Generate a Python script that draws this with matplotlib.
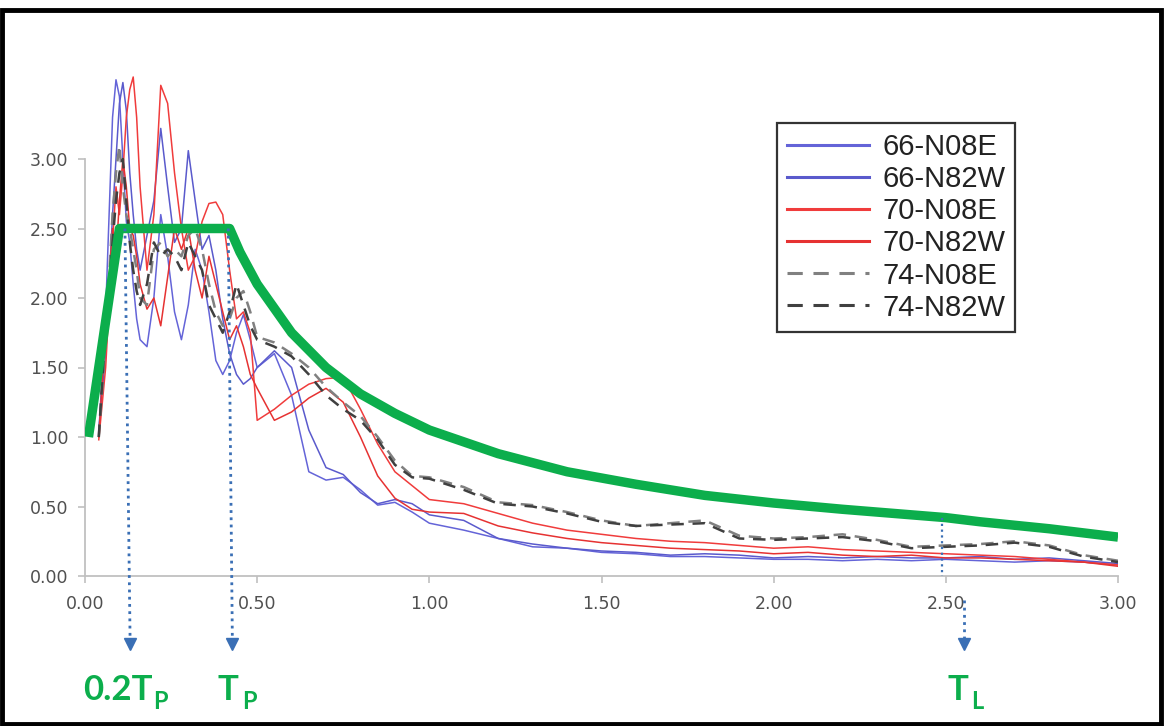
import numpy as np
import matplotlib
matplotlib.use("Agg")
import matplotlib.pyplot as plt
from matplotlib.patches import Rectangle

# periods (s) shared by the six recorded spectra
period = [0.04, 0.06, 0.08, 0.09, 0.10, 0.11, 0.12, 0.13, 0.14, 0.15, 0.16,
          0.18, 0.20, 0.22, 0.24, 0.26, 0.28, 0.30, 0.32, 0.34, 0.36, 0.38,
          0.40, 0.42, 0.44, 0.46, 0.48, 0.50,
          0.55, 0.60, 0.65, 0.70, 0.75, 0.80, 0.85, 0.90, 0.95, 1.00,
          1.10, 1.20, 1.30, 1.40, 1.50, 1.60, 1.70, 1.80, 1.90, 2.00,
          2.10, 2.20, 2.30, 2.40, 2.50, 2.60, 2.70, 2.80, 2.90, 3.00]

sa_66_n08e = [1.02, 1.9, 3.3, 3.57, 3.45, 3.0, 2.55, 2.4, 2.1, 1.85, 1.7,
              1.65, 2.0, 2.6, 2.3, 1.9, 1.70, 1.95, 2.35, 2.2, 1.9, 1.55,
              1.45, 1.55, 1.75, 1.88, 1.7, 1.5,
              1.6, 1.3, 0.75, 0.69, 0.71, 0.62, 0.51, 0.53, 0.46, 0.38,
              0.33, 0.27, 0.21, 0.20, 0.17, 0.16, 0.14, 0.14, 0.13, 0.12,
              0.12, 0.11, 0.12, 0.11, 0.12, 0.11, 0.10, 0.11, 0.10, 0.08]
sa_66_n82w = [1.05, 1.6, 2.6, 3.0, 3.4, 3.55, 3.35, 2.9, 2.6, 2.35, 2.2,
              2.45, 2.7, 3.22, 2.8, 2.4, 2.5, 3.06, 2.7, 2.35, 2.45, 2.2,
              1.85, 1.6, 1.45, 1.38, 1.42, 1.5,
              1.62, 1.5, 1.05, 0.78, 0.73, 0.6, 0.52, 0.55, 0.52, 0.44,
              0.40, 0.27, 0.23, 0.20, 0.18, 0.17, 0.15, 0.16, 0.15, 0.13,
              0.14, 0.13, 0.14, 0.13, 0.13, 0.14, 0.12, 0.13, 0.11, 0.09]
sa_70_n08e = [0.98, 1.5, 2.4, 2.8, 2.6, 2.9, 3.3, 3.5, 3.59, 3.3, 2.8,
              2.2, 2.6, 3.53, 3.4, 2.9, 2.5, 2.2, 2.3, 2.55, 2.68, 2.69,
              2.6, 2.2, 1.85, 1.9, 1.75, 1.12,
              1.2, 1.3, 1.38, 1.42, 1.43, 1.2, 0.95, 0.75, 0.65, 0.55,
              0.52, 0.45, 0.38, 0.33, 0.30, 0.27, 0.25, 0.24, 0.22, 0.20,
              0.21, 0.19, 0.18, 0.17, 0.16, 0.15, 0.14, 0.12, 0.10, 0.08]
sa_70_n82w = [1.0, 1.8, 2.5, 2.3, 2.7, 3.0, 2.8, 2.5, 2.45, 2.3, 2.1,
              1.92, 2.0, 1.8, 2.15, 2.5, 2.35, 2.5, 2.2, 2.0, 2.3, 2.1,
              1.9, 1.7, 1.8, 1.65, 1.45, 1.35,
              1.12, 1.18, 1.28, 1.35, 1.25, 1.0, 0.72, 0.56, 0.48, 0.46,
              0.45, 0.36, 0.31, 0.27, 0.24, 0.22, 0.20, 0.19, 0.18, 0.16,
              0.17, 0.15, 0.14, 0.15, 0.13, 0.13, 0.12, 0.11, 0.10, 0.07]
sa_74_n08e = [1.0, 1.7, 2.6, 2.9, 3.1, 2.8, 2.6, 2.5, 2.35, 2.2, 2.0,
              1.95, 2.35, 2.4, 2.3, 2.35, 2.3, 2.45, 2.5, 2.35, 2.1, 1.9,
              1.8, 1.85, 2.0, 2.05, 1.9, 1.72,
              1.68, 1.6, 1.5, 1.36, 1.25, 1.15, 1.0, 0.83, 0.72, 0.71,
              0.64, 0.53, 0.51, 0.46, 0.40, 0.36, 0.38, 0.40, 0.29, 0.27,
              0.28, 0.30, 0.26, 0.21, 0.22, 0.23, 0.25, 0.22, 0.15, 0.11]
sa_74_n82w = [1.0, 1.8, 2.4, 2.7, 2.9, 3.0, 2.7, 2.4, 2.2, 2.05, 1.95,
              2.1, 2.4, 2.3, 2.35, 2.3, 2.2, 2.4, 2.3, 2.2, 1.95, 1.85,
              1.75, 1.9, 2.1, 1.95, 1.8, 1.7,
              1.65, 1.58, 1.45, 1.3, 1.2, 1.12, 0.98, 0.8, 0.71, 0.70,
              0.62, 0.52, 0.50, 0.45, 0.39, 0.36, 0.37, 0.38, 0.27, 0.26,
              0.27, 0.28, 0.25, 0.20, 0.21, 0.22, 0.24, 0.21, 0.14, 0.10]

# design spectrum
design_T = [0.01, 0.10, 0.42, 0.45, 0.50, 0.60, 0.70, 0.80, 0.90, 1.00,
            1.20, 1.40, 1.60, 1.80, 2.00, 2.20, 2.50, 2.60, 2.80, 3.00]
design_sa = [1.0, 2.5, 2.5, 2.33, 2.1, 1.75, 1.5, 1.31, 1.17, 1.05,
             0.88, 0.75, 0.66, 0.58, 0.525, 0.48, 0.42, 0.39, 0.34, 0.28]

series = [
    ("66-N08E", sa_66_n08e, "#6464d8", "-"),
    ("66-N82W", sa_66_n82w, "#5a5acc", "-"),
    ("70-N08E", sa_70_n08e, "#f03c3c", "-"),
    ("70-N82W", sa_70_n82w, "#e63232", "-"),
    ("74-N08E", sa_74_n08e, "#808080", "--"),
    ("74-N82W", sa_74_n82w, "#404040", "--"),
]

ticks = [0.0, 0.5, 1.0, 1.5, 2.0, 2.5, 3.0]
green = "#0cae4c"
W, H = 1164, 726

fig = plt.figure(figsize=(W / 100, H / 100), dpi=100)
ax = fig.add_axes([85 / W, 150 / H, 1033 / W, 500.4 / H])

for name, vals, col, ls in series:
    if ls == "--":
        ax.plot(period, vals, color=col, lw=1.8, dashes=(5, 3.5), label=name, zorder=3)
    else:
        ax.plot(period, vals, color=col, lw=1.1, label=name, zorder=3)

ax.plot(design_T, design_sa, color=green, lw=6.8, solid_capstyle="butt",
        solid_joinstyle="round", zorder=5)

# dotted markers for 0.2Tp, Tp, TL
dot_col = "#3a6fb5"
for x_top, y_top, x_bot in [(0.116, 2.5, 0.131), (0.416, 2.5, 0.428)]:
    ax.plot([x_top, x_bot], [y_top, -0.47], ls=(0, (1, 1.6)), color=dot_col,
            lw=2, clip_on=False, zorder=6)
    ax.plot([x_bot], [-0.49], marker="v", ms=9, color=dot_col, clip_on=False, zorder=6)
ax.plot([2.49, 2.49], [0.42, 0.0], ls=(0, (1, 1.6)), color=dot_col, lw=1.6,
        clip_on=False, zorder=6)
ax.plot([2.553, 2.553], [-0.17, -0.47], ls=(0, (1, 1.6)), color=dot_col, lw=2,
        clip_on=False, zorder=6)
ax.plot([2.553], [-0.49], marker="v", ms=9, color=dot_col, clip_on=False, zorder=6)

ax.set_xlim(0, 3.0)
ax.set_ylim(0, 3.6)
ax.set_xticks(ticks)
ax.set_yticks(ticks)
ax.set_xticklabels([f"{t:.2f}" for t in ticks])
ax.set_yticklabels([f"{t:.2f}" for t in ticks])
for s in ["top", "right"]:
    ax.spines[s].set_visible(False)
for s in ["left", "bottom"]:
    ax.spines[s].set_color("#c0c0c0")
    ax.spines[s].set_linewidth(1.3)
ax.spines["left"].set_bounds(0, 3.0)
ax.tick_params(colors="#c0c0c0", labelcolor="#505050", labelsize=12.5,
               length=5, width=1.2)
ax.tick_params(axis="x", pad=9)
ax.tick_params(axis="y", pad=7)

leg = ax.legend(loc="upper left", bbox_to_anchor=(777 / W, 1 - 123 / H),
                bbox_transform=fig.transFigure, borderaxespad=0,
                prop={"family": "Liberation Sans", "size": 21},
                handlelength=2.8, handletextpad=0.45, labelspacing=0.14,
                borderpad=0.35, fancybox=False, framealpha=1)
leg.get_frame().set_edgecolor("#333333")
leg.get_frame().set_linewidth(1.6)
for t in leg.get_texts():
    t.set_color("#222222")
for h in leg.get_lines():
    h.set_linewidth(2.2)

# green labels under the axis
lab = dict(color=green, fontweight="bold", family="Lato", va="baseline")
fig.text(83 / W, 1 - 700 / H, "0.2T", fontsize=25, **lab)
fig.text(153 / W, 1 - 709 / H, "P", fontsize=17, **lab)
fig.text(218 / W, 1 - 700 / H, "T", fontsize=25, **lab)
fig.text(242 / W, 1 - 709 / H, "P", fontsize=17, **lab)
fig.text(947 / W, 1 - 700 / H, "T", fontsize=25, **lab)
fig.text(971 / W, 1 - 709 / H, "L", fontsize=17, **lab)

# picture frame
fig.add_artist(Rectangle((2 / W, 2 / H), 1159 / W, 714 / H, transform=fig.transFigure,
                         fill=False, ec="black", lw=3.5))

fig.savefig("out.png", dpi=100)
